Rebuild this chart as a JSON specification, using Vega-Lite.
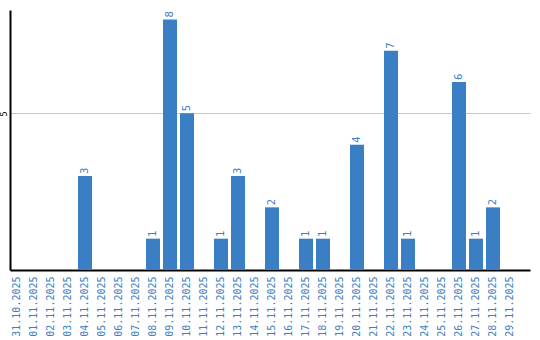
{
  "$schema": "https://vega.github.io/schema/vega-lite/v6.json",
  "autosize": {"type": "none"},
  "padding": {"left": 10, "top": 10, "right": 10, "bottom": 70},
  "width": 520,
  "height": 260,
  "background": "white",
  "config": {"view": {"stroke": null}},
  "data": {"values": [
    {"date": "31.10.2025", "v": 0},
    {"date": "01.11.2025", "v": 0},
    {"date": "02.11.2025", "v": 0},
    {"date": "03.11.2025", "v": 0},
    {"date": "04.11.2025", "v": 3},
    {"date": "05.11.2025", "v": 0},
    {"date": "06.11.2025", "v": 0},
    {"date": "07.11.2025", "v": 0},
    {"date": "08.11.2025", "v": 1},
    {"date": "09.11.2025", "v": 8},
    {"date": "10.11.2025", "v": 5},
    {"date": "11.11.2025", "v": 0},
    {"date": "12.11.2025", "v": 1},
    {"date": "13.11.2025", "v": 3},
    {"date": "14.11.2025", "v": 0},
    {"date": "15.11.2025", "v": 2},
    {"date": "16.11.2025", "v": 0},
    {"date": "17.11.2025", "v": 1},
    {"date": "18.11.2025", "v": 1},
    {"date": "19.11.2025", "v": 0},
    {"date": "20.11.2025", "v": 4},
    {"date": "21.11.2025", "v": 0},
    {"date": "22.11.2025", "v": 7},
    {"date": "23.11.2025", "v": 1},
    {"date": "24.11.2025", "v": 0},
    {"date": "25.11.2025", "v": 0},
    {"date": "26.11.2025", "v": 6},
    {"date": "27.11.2025", "v": 1},
    {"date": "28.11.2025", "v": 2},
    {"date": "29.11.2025", "v": 0}
  ]},
  "encoding": {
    "x": {
      "field": "date", "type": "ordinal", "sort": null,
      "scale": {"paddingInner": 0.176, "paddingOuter": 0.382, "align": 0},
      "axis": {
        "title": null, "labelAngle": -90, "labelAlign": "right", "labelBaseline": "middle",
        "labelFont": "DejaVu Sans Mono", "labelFontSize": 10, "labelColor": "#3a7ec3",
        "ticks": false, "labelPadding": 6, "domainColor": "#000000", "domainWidth": 2, "grid": false
      }
    },
    "y": {
      "field": "v", "type": "quantitative",
      "scale": {"domain": [0, 8.3], "nice": false},
      "axis": {
        "title": null, "values": [5], "labelAngle": -90, "labelAlign": "center", "labelBaseline": "bottom",
        "labelFont": "DejaVu Sans", "labelFontSize": 8, "labelColor": "#000000", "labelPadding": 2,
        "ticks": false, "domainColor": "#000000", "domainWidth": 2,
        "grid": true, "gridColor": "#c8c8c8", "gridWidth": 1
      }
    }
  },
  "layer": [
    {"mark": {"type": "bar", "color": "#3a7ec3"}},
    {
      "transform": [{"filter": "datum.v > 0"}],
      "mark": {"type": "text", "angle": -90, "align": "left", "baseline": "middle", "dx": 2, "font": "DejaVu Sans", "fontSize": 10, "color": "#3a7ec3"},
      "encoding": {"text": {"field": "v", "type": "quantitative"}}
    }
  ]
}
